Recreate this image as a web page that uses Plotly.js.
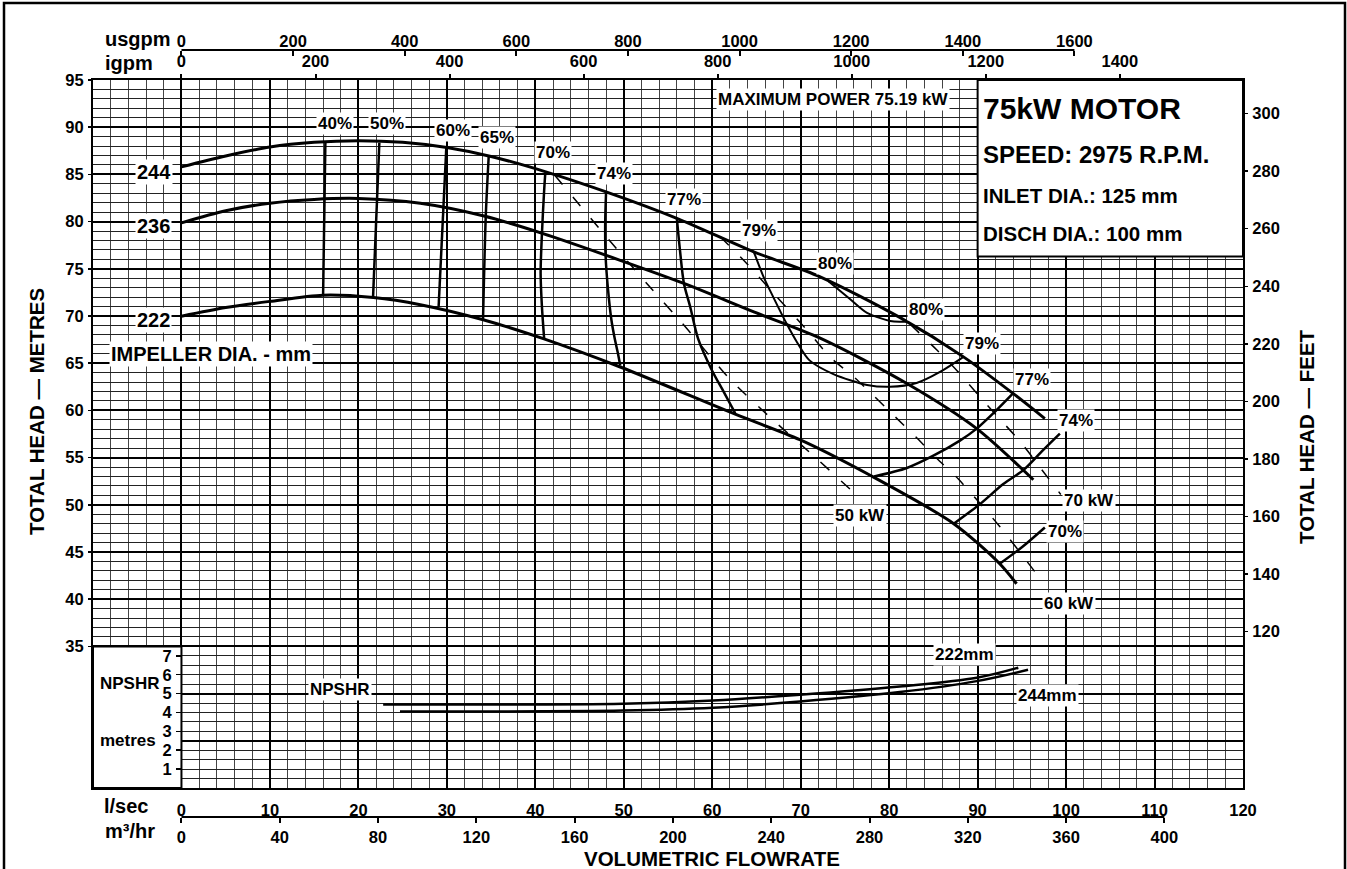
<!DOCTYPE html>
<html>
<head>
<meta charset="utf-8">
<script src="https://cdn.plot.ly/plotly-3.0.1.min.js"></script>
<style>html,body{margin:0;padding:0;background:#fff;}#chart{width:1347px;height:869px;}</style>
</head>
<body>
<div id="chart"></div>
<script>
// ---------- DATA (flow in l/sec, head in metres, NPSHR in metres) ----------
const flow244 = [0, 5, 10, 15, 20, 25, 30, 35, 41.1, 48, 56, 64.7, 72.2, 81.2, 88.4, 94, 97.6];
const head244 = [85.8, 86.95, 87.9, 88.4, 88.57, 88.4, 87.85, 86.9, 85.3, 83.15, 80.35, 76.8, 74.15, 69.85, 65.67, 61.8, 59.13];
const flow236 = [0, 5, 10, 15, 20, 27, 34.2, 40.8, 49.6, 56.8, 64.7, 72.2, 82, 89.9, 96.3];
const head236 = [79.87, 81.15, 81.95, 82.35, 82.45, 81.95, 80.6, 78.75, 75.9, 73.45, 70.44, 67.65, 62.85, 58.07, 52.65];
const flow222 = [0, 5, 10, 16, 21.7, 27, 34, 40.9, 49.6, 62.6, 69.9, 77.9, 87.3, 92.5, 94.4];
const head222 = [69.98, 70.9, 71.55, 72.2, 71.95, 71.2, 69.63, 67.6, 64.6, 59.6, 56.9, 53.1, 48.0, 43.76, 41.64];
const impellerDia = ['244', '236', '222'];

const eff40Flow = [16.27, 16.01];            const eff40Head = [88.46, 72.2];
const eff50Flow = [22.37, 21.66];            const eff50Head = [88.35, 72.03];
const eff60Flow = [29.94, 29.07];            const eff60Head = [87.87, 70.97];
const eff65Flow = [34.73, 34.4, 34.09];      const eff65Head = [86.87, 80.58, 69.63];
const eff70Flow = [41.13, 41.0, 40.75, 40.6, 40.75, 41.0];
const eff70Head = [85.17, 83.3, 78.75, 74.5, 70.97, 67.6];
const eff74Flow = [48.0, 47.9, 47.95, 48.2, 48.6, 49.0, 49.35, 49.6];
const eff74Head = [83.16, 79.8, 76.3, 73.0, 69.6, 67.5, 66.0, 64.75];
const eff77Flow = [56.0, 56.35, 56.8, 57.5, 58.4, 59.96, 61.3, 62.6];
const eff77Head = [80.34, 77.0, 73.45, 71.0, 67.6, 64.26, 61.96, 59.7];
const eff79Flow = [64.7, 65.8, 66.9, 68.4, 69.6, 71.0, 73.7, 77.5, 80.1, 83.1, 85.8, 88.4];
const eff79Head = [76.8, 74.15, 72.0, 69.2, 67.2, 65.3, 63.85, 62.7, 62.5, 62.9, 64.1, 65.67];
const eff80Flow = [73.1, 75.5, 77.5, 80.1, 81.2, 82.2];
const eff80Head = [73.7, 71.86, 70.33, 69.48, 69.38, 69.4];
const eff77bFlow = [78.3, 82.0, 85.0, 88.0, 89.9, 92.0, 94.0];
const eff77bHead = [53.0, 53.9, 55.2, 56.8, 58.07, 59.9, 61.8];
const eff74bFlow = [87.3, 90.3, 92.9, 95.2, 97.4, 99.3];
const eff74bHead = [48.0, 50.1, 52.2, 53.7, 55.8, 57.55];
const eff70bFlow = [92.5, 95.0, 97.6];
const eff70bHead = [43.76, 45.5, 47.6];

const p50Flow = [42.2, 44.7, 47.7, 52.6, 57.1, 62.0, 66.9, 71.8, 76.8];
const p50Head = [84.9, 82.1, 78.75, 73.45, 68.7, 63.3, 58.96, 54.9, 50.6];
const p60Flow = [60.9, 63.9, 66.6, 70.9, 73.3, 76.0, 78.2, 80.7, 83.0, 85.4, 87.8, 92.5, 97.3];
const p60Head = [78.4, 75.57, 72.74, 68.3, 65.67, 63.55, 61.6, 59.3, 57.2, 54.9, 52.75, 47.7, 41.9];
const p70Flow = [82.4, 85.4, 87.8, 90.1, 92.5, 95.0, 97.3, 99.4];
const p70Head = [69.1, 66.4, 64.08, 61.6, 59.1, 56.5, 53.66, 51.1];

const npshr222Flow = [22.8, 30.4, 49.9, 60.1, 69.9, 81.2, 89.9, 94.6];
const npshr222 = [4.42, 4.42, 4.46, 4.63, 4.94, 5.38, 5.84, 6.37];
const npshr244Flow = [24.7, 30.4, 49.9, 60.1, 69.9, 81.2, 89.9, 95.7];
const npshr244 = [4.05, 4.05, 4.10, 4.25, 4.58, 5.08, 5.66, 6.26];

const lsTicks = [0,10,20,30,40,50,60,70,80,90,100,110,120];
const m3hTicks = [0,40,80,120,160,200,240,280,320,360,400];
const usgpmTicks = [0,200,400,600,800,1000,1200,1400,1600];
const igpmTicks = [0,200,400,600,800,1000,1200,1400];
const metreTicks = [35,40,45,50,55,60,65,70,75,80,85,90,95];
const feetTicks = [120,140,160,180,200,220,240,260,280,300];
const npshrTicks = [1,2,3,4,5,6,7];

const effLabels = ['40%','50%','60%','65%','70%','74%','77%','79%','80%','80%','79%','77%','74%','70%'];
const powerLabels = ['50 kW','60 kW','70 kW'];
const motorLines = ['75kW MOTOR','SPEED: 2975 R.P.M.','INLET DIA.: 125 mm','DISCH DIA.: 100 mm'];

// ---------- unit conversions (axis calibration) ----------
const LS_USGPM = 15.8503, LS_IGPM = 13.1982, LS_M3H = 3.6, M_FT = 3.28084;
const X0 = -10, X1 = 120, H0 = 20, H1 = 95;

const FONT = 'Liberation Sans, Arial, Helvetica, sans-serif';
function f(size){ return {family: FONT, size: size, color: '#000', weight: 'bold'}; }

const traces = [];
function line(x, y, w, opts){
  traces.push(Object.assign({type:'scatter', mode:'lines', x:x, y:y, xaxis:'x', yaxis:'y',
    line:{color:'#000', width:w, shape:'spline', smoothing:0.8}, hoverinfo:'skip', showlegend:false}, opts||{}));
}
line(flow244, head244, 3);
line(flow236, head236, 3);
line(flow222, head222, 3);
line(eff40Flow, eff40Head, 2.5);
line(eff50Flow, eff50Head, 2.5);
line(eff60Flow, eff60Head, 2.5);
line(eff65Flow, eff65Head, 2.5);
line(eff70Flow, eff70Head, 2.5);
line(eff74Flow, eff74Head, 2.5);
line(eff77Flow, eff77Head, 2.5);
line(eff79Flow, eff79Head, 2);
line(eff80Flow, eff80Head, 2);
line(eff77bFlow, eff77bHead, 2.5);
line(eff74bFlow, eff74bHead, 2.5);
line(eff70bFlow, eff70bHead, 2.5);
[[p50Flow,p50Head],[p60Flow,p60Head],[p70Flow,p70Head]].forEach(p=>{
  traces.push({type:'scatter', mode:'lines', x:p[0], y:p[1], xaxis:'x', yaxis:'y',
    line:{color:'#000', width:1.5, dash:'12px,16px', shape:'spline', smoothing:0.6}, hoverinfo:'skip', showlegend:false});
});
// NPSHR curves on their own scale
traces.push({type:'scatter', mode:'lines', x:npshr222Flow, y:npshr222, xaxis:'x', yaxis:'y3',
  line:{color:'#000', width:2.5, shape:'spline'}, hoverinfo:'skip', showlegend:false});
traces.push({type:'scatter', mode:'lines', x:npshr244Flow, y:npshr244, xaxis:'x', yaxis:'y3',
  line:{color:'#000', width:2.5, shape:'spline'}, hoverinfo:'skip', showlegend:false});
// invisible carriers so the secondary unit axes exist
function ghost(xa, ya, xs, ys){
  traces.push({type:'scatter', mode:'lines', x:xs, y:ys, xaxis:xa, yaxis:ya, opacity:0,
    line:{width:0}, hoverinfo:'skip', showlegend:false});
}
ghost('x','y2', flow244, head244.map(v=>v*M_FT));
ghost('x','y4', flow244, head244);
ghost('x2','y', flow244.map(v=>v*LS_USGPM), head244);
ghost('x3','y', flow244.map(v=>v*LS_IGPM), head244);
ghost('x4','y', flow244.map(v=>v*LS_M3H), head244);

// ---------- layout geometry ----------
const W = 1347, Hh = 869, mL = 93, mR = 104, mT = 30, mB = 30;
const pw = W - mL - mR, ph = Hh - mT - mB;
const px = v => (v - mL) / pw;            // pixel x -> paper
const py = v => (Hh - mB - v) / ph;       // pixel y -> paper
const yDom = [py(788), py(80)];

const baseAx = {showgrid:false, zeroline:false, showline:false, fixedrange:true, tickfont:f(16.5), tickcolor:'#000'};

const layout = {
  width:W, height:Hh, margin:{l:mL, r:mR, t:mT, b:mB, pad:0},
  paper_bgcolor:'#fff', plot_bgcolor:'#fff', showlegend:false,
  xaxis: Object.assign({}, baseAx, {domain:[0,1], range:[X0,X1], tickmode:'array', tickvals:lsTicks,
    ticks:'', showticklabels:true, ticklabelstandoff:6,
    showline:true, mirror:true, linecolor:'#000', linewidth:2,
    showgrid:true, gridcolor:'#000', gridwidth:2,
    minor:{dtick:2, tick0:0, showgrid:true, gridcolor:'#444', gridwidth:1, ticks:''}}),
  yaxis: Object.assign({}, baseAx, {domain:yDom, range:[H0,H1], tickmode:'linear', dtick:5, tick0:0,
    ticks:'', showticklabels:false,
    showline:true, mirror:true, linecolor:'#000', linewidth:2,
    showgrid:true, gridcolor:'#000', gridwidth:2,
    minor:{dtick:1, tick0:0, showgrid:true, gridcolor:'#222', gridwidth:1, ticks:''}}),
  yaxis4: Object.assign({}, baseAx, {overlaying:'y', anchor:'x', side:'left', range:[H0,H1],
    tickmode:'array', tickvals:metreTicks, ticks:'outside', ticklen:4, tickwidth:1.5, ticklabelstandoff:1}),
  yaxis2: Object.assign({}, baseAx, {overlaying:'y', anchor:'x', side:'right', range:[H0*M_FT,H1*M_FT],
    tickmode:'array', tickvals:feetTicks, ticks:'outside', ticklen:4, tickwidth:1.5, ticklabelstandoff:1}),
  yaxis3: Object.assign({}, baseAx, {overlaying:'y', anchor:'free', position:px(181), side:'left',
    range:[0,(H1-H0)/2], tickmode:'array', tickvals:npshrTicks, ticks:'outside', ticklen:5, tickwidth:1.5, ticklabelstandoff:1}),
  xaxis2: Object.assign({}, baseAx, {overlaying:'x', anchor:'free', position:py(50), side:'top',
    range:[X0*LS_USGPM, X1*LS_USGPM], tickmode:'array', tickvals:usgpmTicks, ticks:'inside', ticklen:5, tickwidth:2}),
  xaxis3: Object.assign({}, baseAx, {overlaying:'x', anchor:'y', side:'top',
    range:[X0*LS_IGPM, X1*LS_IGPM], tickmode:'array', tickvals:igpmTicks, ticks:'outside', ticklen:5, tickwidth:2}),
  xaxis4: Object.assign({}, baseAx, {overlaying:'x', anchor:'free', position:py(817), side:'bottom',
    range:[X0*LS_M3H, X1*LS_M3H], tickmode:'array', tickvals:m3hTicks, ticks:'outside', ticklen:5, tickwidth:2}),
  shapes: [
    // outer frame
    {type:'path', xref:'paper', yref:'paper', path:`M ${px(4)},${py(905)} L ${px(4)},${py(3)} L ${px(1345)},${py(3)} L ${px(1345)},${py(905)}`,
      line:{color:'#000', width:2.5}, layer:'above'},
    // usgpm axis line
    {type:'line', xref:'x2', yref:'paper', x0:usgpmTicks[0], x1:usgpmTicks[usgpmTicks.length-1], y0:py(50), y1:py(50),
      line:{color:'#000', width:2}},
    // m3/hr axis line
    {type:'line', xref:'x4', yref:'paper', x0:m3hTicks[0], x1:m3hTicks[m3hTicks.length-1], y0:py(817), y1:py(817),
      line:{color:'#000', width:2}},
    // NPSHR label panel (blank)
    {type:'rect', xref:'x', yref:'y', x0:X0, x1:0, y0:H0, y1:35, fillcolor:'#fff', line:{color:'#000', width:2}, layer:'between'},
    // motor info box
    {type:'rect', xref:'x', yref:'y', x0:90, x1:X1, y0:76.3, y1:H1, fillcolor:'#fff', line:{color:'#000', width:2}, layer:'above'}
  ],
  annotations: []
};

const ann = layout.annotations;
function lab(text, x, y, size, extra){
  ann.push(Object.assign({text:text, x:x, y:y, xref:'x', yref:'y', showarrow:false, font:f(size),
    bgcolor:'#fff', borderpad:1, xanchor:'center', yanchor:'middle'}, extra||{}));
}
function plab(text, x, y, size, extra){
  ann.push(Object.assign({text:text, x:px(x), y:py(y), xref:'paper', yref:'paper', showarrow:false, font:f(size),
    xanchor:'center', yanchor:'middle'}, extra||{}));
}
// efficiency labels
const effPos = [[17.35,90.41],[23.25,90.44],[30.73,89.70],[35.7,88.93],[42.03,87.34],[48.93,85.11],[56.84,82.36],
  [65.31,79.03],[73.84,75.57],[84.18,70.72],[90.51,67.09],[96.16,63.27],[101.13,58.88],[99.89,47.12]];
effLabels.forEach((t,i)=>lab(t, effPos[i][0], effPos[i][1], 17));
const powPos = [[76.72,48.89],[100.28,39.59],[102.6,50.48]];
powerLabels.forEach((t,i)=>lab(t, powPos[i][0], powPos[i][1], 17));
// impeller diameters
const diaPos = [85.28, 79.52, 69.56];
impellerDia.forEach((t,i)=>lab(t, -3.13, diaPos[i], 20));
lab('IMPELLER DIA. - mm', 3.36, 65.95, 20);
lab('MAXIMUM POWER 75.19 kW', 73.67, 92.95, 17);
// NPSHR labels
lab('NPSHR', 17.97, 30.44, 17);
lab('222mm', 88.55, 34.12, 17);
lab('244mm', 97.9, 29.8, 17);
lab('NPSHR', -9.38, 31.04, 17, {xanchor:'left', bgcolor:'rgba(0,0,0,0)'});
lab('metres', -9.38, 25.0, 17, {xanchor:'left', bgcolor:'rgba(0,0,0,0)'});
// motor box
const motorY = [92.0, 87.16, 82.81, 78.75], motorSize = [30, 24, 20.5, 20.5];
motorLines.forEach((t,i)=>lab(t, 90.45, motorY[i], motorSize[i], {xanchor:'left', bgcolor:'rgba(0,0,0,0)', borderpad:0}));
// unit labels and axis titles
plab('usgpm', 103, 39, 20, {xanchor:'left'});
plab('igpm', 103, 63, 20, {xanchor:'left'});
plab('l/sec', 102, 806, 20, {xanchor:'left'});
plab('m³/hr', 103, 831, 20, {xanchor:'left'});
plab('VOLUMETRIC FLOWRATE', 711.7, 858, 20.5);
plab('TOTAL HEAD — METRES', 36, 412, 20.5, {textangle:-90});
plab('TOTAL HEAD — FEET', 1306, 437, 20.5, {textangle:-90});

Plotly.newPlot('chart', traces, layout, {staticPlot:true, displayModeBar:false});
</script>
</body>
</html>
